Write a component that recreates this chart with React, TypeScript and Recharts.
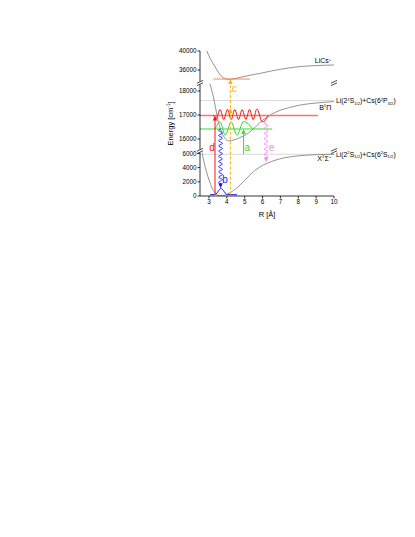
import React from "react";
import {
  ComposedChart,
  Line,
  XAxis,
  YAxis,
  ReferenceLine,
  ReferenceDot,
} from "recharts";

// Energy axis is broken in three pieces (0-6k, 16-18k, 36-40k cm-1).
// Everything is plotted on one "display" scale built from those pieces.
const toD = (e: number) =>
  e < 10000 ? e * 0.0071 : e < 30000 ? 57 + (e - 16000) * 0.024 : 126 + (e - 36000) * 0.00475;
const BREAKS = [45, 113];

const R_TICKS = [3, 4, 5, 6, 7, 8, 9, 10];
const E_TICKS = [0, 2000, 4000, 6000, 16000, 17000, 18000, 36000, 40000];

// potential curves (R in Å, E in cm-1)
const X_R = [2.6, 2.8, 3.0, 3.2, 3.4, 3.67, 4.0, 4.5, 5.0, 5.5, 6.0, 6.5, 7.0, 8.0, 9.0, 10];
const X_E = [6300, 4000, 2300, 1000, 300, 0, 250, 1000, 2200, 3450, 4300, 4850, 5250, 5650, 5820, 5880];

const B_R = [3.05, 3.15, 3.25, 3.36, 3.5, 3.7, 3.9, 4.1, 4.4, 4.8, 5.2, 5.6, 6.0, 6.5, 7.0, 7.5, 8.0, 9.0, 10];
const B_E = [18300, 18050, 17750, 17350, 16800, 16300, 16030, 15920, 15960, 16080, 16240, 16500, 16780, 17030, 17200, 17310, 17400, 17500, 17560];

const ION_R = [2.88, 3.1, 3.34, 3.55, 3.72, 3.9, 4.1, 4.4, 4.8, 5.3, 5.88, 6.5, 7.0, 7.75, 8.5, 9.2, 10];
const ION_E = [40000, 38200, 36700, 35400, 34600, 34200, 34050, 34150, 34500, 34900, 35300, 35800, 36150, 36570, 36830, 36970, 37050];

// asymptotes
const ASYM_P = 17600;
const ASYM_S = 5875;

// vibrational levels
const ION_LEVEL = { r: [3.25, 5.3], e: 34100 };
const RED_LEVEL = { r: [2.5, 9.1], e: 16980 };
const GREEN_LEVEL = { r: [2.5, 6.54], e: 16417 };

// wavefunctions
const RED_R = [3.26, 3.4, 3.626, 3.829, 4.037, 4.245, 4.448, 4.657, 4.859, 5.068, 5.27, 5.479, 5.681, 5.99, 6.33];
const RED_E = [16980, 16850, 17230, 16810, 17230, 16810, 17230, 16810, 17230, 16810, 17230, 16810, 17250, 16720, 16980];

const GREEN_R = [3.345, 3.626, 3.91, 4.245, 4.57, 4.94, 5.45];
const GREEN_E = [16417, 16710, 16160, 16710, 16160, 16730, 16417];

const BLUE_R = [3.06, 3.3, 3.45, 3.55, 3.68, 3.8, 3.92, 4.05, 4.57];
const BLUE_E = [180, 190, 400, 800, 1080, 800, 400, 190, 180];

// transitions
const ARROW_A = { r: 4.94, from: 5875, to: 16417 };
const ARROW_B = { r: 3.65, from: 16417, to: 1100 };
const ARROW_C1 = { r: 4.2, from: 200, to: 17290 };
const ARROW_C2 = { r: 4.2, from: 17290, to: 34100 };
const ARROW_D = { r: 3.34, from: 180, to: 16980 };
const ARROW_E = { r: 6.2, from: 16720, to: 4750 };

const GREY = "#777";
const RED = "#ff1010";
const GREEN = "#2ee02e";
const BLUE = "#1616ff";
const PINK = "#ff80ff";
const GOLD = "#ffb000";
const ORANGE = "#f4865a";

const pts = (rs: number[], es: number[]) => rs.map((r, i) => ({ r, d: toD(es[i]) }));
const level = (lv: { r: number[]; e: number }) => lv.r.map((r) => ({ r, d: toD(lv.e) }));

function head(tx: number, ty: number, ux: number, uy: number, color: string) {
  const L = 5;
  const W = 2.2;
  const bx = tx - ux * L;
  const by = ty - uy * L;
  return (
    <polygon
      points={`${tx},${ty} ${bx - uy * W},${by + ux * W} ${bx + uy * W},${by - ux * W}`}
      fill={color}
    />
  );
}

const arrow = (color: string, dash?: string, withHead = true) => (p: any) => {
  const { x1, y1, x2, y2 } = p;
  const len = Math.hypot(x2 - x1, y2 - y1) || 1;
  const ux = (x2 - x1) / len;
  const uy = (y2 - y1) / len;
  const cut = withHead ? 4 : 0;
  return (
    <g>
      <line
        x1={x1}
        y1={y1}
        x2={x2 - ux * cut}
        y2={y2 - uy * cut}
        stroke={color}
        strokeWidth={1}
        strokeDasharray={dash}
      />
      {withHead && head(x2, y2, ux, uy, color)}
    </g>
  );
};

const wavy = (color: string) => (p: any) => {
  const { x1, y1, x2, y2 } = p;
  const len = Math.hypot(x2 - x1, y2 - y1) || 1;
  const ux = (x2 - x1) / len;
  const uy = (y2 - y1) / len;
  const n = Math.floor((len - 4) / 0.5);
  let path = "";
  for (let i = 0; i <= n; i++) {
    const s = i * 0.5;
    const w = 1.9 * Math.sin((s / 5.2) * 2 * Math.PI);
    const px = x1 + ux * s - uy * w;
    const py = y1 + uy * s + ux * w;
    path += (i ? "L" : "M") + px.toFixed(2) + "," + py.toFixed(2);
  }
  return (
    <g>
      <path d={path} stroke={color} fill="none" strokeWidth={0.9} />
      {head(x2, y2, ux, uy, color)}
    </g>
  );
};

type Part = [string, number];

function Rich({ x, y, parts, size, anchor = "start", fill = "#000" }: any) {
  let prev = 0;
  return (
    <text x={x} y={y} fontSize={size} textAnchor={anchor} fill={fill}>
      {parts.map(([t, s]: Part, i: number) => {
        const off = s < 0 ? -size * 0.38 : s > 0 ? size * 0.22 : 0;
        const dy = off - prev;
        prev = off;
        return (
          <tspan key={i} dy={dy} fontSize={s ? size * 0.62 : size}>
            {t}
          </tspan>
        );
      })}
    </text>
  );
}

const tag = (parts: Part[], size: number, anchor: string, dx: number, dy: number, fill = "#000") => (p: any) => (
  <Rich x={p.cx + dx} y={p.cy + dy} parts={parts} size={size} anchor={anchor} fill={fill} />
);

const breakMark = (p: any) => (
  <g>
    <rect x={p.cx - 4} y={p.cy - 1.6} width={8} height={3.2} fill="#fff" />
    <line x1={p.cx - 3} y1={p.cy + 2.6} x2={p.cx + 3} y2={p.cy - 0.2} stroke="#000" strokeWidth={0.7} />
    <line x1={p.cx - 3} y1={p.cy + 0.2} x2={p.cx + 3} y2={p.cy - 2.6} stroke="#000" strokeWidth={0.7} />
  </g>
);

const yLabel = (props: any) => {
  const vb = props.viewBox;
  const cx = vb.x + 10;
  const cy = vb.y + vb.height / 2;
  return (
    <g transform={`rotate(-90, ${cx}, ${cy})`}>
      <Rich x={cx} y={cy + 3} parts={[["Energy [cm", 0], ["-1", -1], ["]", 0]]} size={7.5} anchor="middle" />
    </g>
  );
};

const xLabel = (props: any) => {
  const vb = props.viewBox;
  return (
    <text x={vb.x + vb.width / 2} y={vb.y + 21} fontSize={7.5} textAnchor="middle" fill="#000">
      R [Å]
    </text>
  );
};

const tickFmt = (v: number) => {
  const i = E_TICKS.findIndex((e) => Math.abs(toD(e) - v) < 0.01);
  return i >= 0 ? String(E_TICKS[i]) : "";
};

export default function App() {
  const yTicks = E_TICKS.map(toD);
  const axisStyle = { stroke: "#000", strokeWidth: 0.8 };
  const tickStyle = { fontSize: 6.3, fill: "#000" };
  return (
    <div style={{ position: "absolute", left: 0, top: 0, fontFamily: "'Liberation Sans', Arial, sans-serif" }}>
      <ComposedChart width={415} height={260} margin={{ top: 51, right: 81, bottom: 34, left: 160 }}>
        <XAxis
          dataKey="r"
          type="number"
          domain={[2.5, 10]}
          ticks={R_TICKS}
          interval={0}
          allowDataOverflow
          height={30}
          axisLine={axisStyle}
          tickLine={axisStyle}
          tickSize={2.5}
          tickMargin={1}
          tick={tickStyle}
          label={xLabel}
        />
        <XAxis
          xAxisId="top"
          orientation="top"
          dataKey="r"
          type="number"
          domain={[2.5, 10]}
          ticks={R_TICKS}
          interval={0}
          height={0}
          axisLine={axisStyle}
          tickLine={axisStyle}
          tickSize={2.5}
          tickFormatter={() => ""}
        />
        <YAxis
          type="number"
          domain={[0, 145]}
          ticks={yTicks}
          interval={0}
          allowDataOverflow
          width={40}
          axisLine={axisStyle}
          tickLine={axisStyle}
          tickSize={2.5}
          tickMargin={1}
          tick={tickStyle}
          tickFormatter={tickFmt}
          label={yLabel}
        />
        <YAxis
          yAxisId="right"
          orientation="right"
          type="number"
          domain={[0, 145]}
          ticks={yTicks}
          interval={0}
          width={0}
          axisLine={axisStyle}
          tickLine={axisStyle}
          tickSize={2.5}
          tickFormatter={() => ""}
        />

        <ReferenceLine y={toD(ASYM_P)} stroke="#cfcfcf" strokeWidth={0.8} />
        <ReferenceLine y={toD(ASYM_S)} stroke="#cfcfcf" strokeWidth={0.8} />

        <Line data={pts(X_R, X_E)} dataKey="d" type="monotone" stroke={GREY} strokeWidth={0.8} dot={false} isAnimationActive={false} />
        <Line data={pts(B_R, B_E)} dataKey="d" type="monotone" stroke={GREY} strokeWidth={0.8} dot={false} isAnimationActive={false} />
        <Line data={pts(ION_R, ION_E)} dataKey="d" type="monotone" stroke={GREY} strokeWidth={0.8} dot={false} isAnimationActive={false} />

        <Line data={level(ION_LEVEL)} dataKey="d" stroke={ORANGE} strokeWidth={1} dot={false} isAnimationActive={false} />
        <Line data={level(RED_LEVEL)} dataKey="d" stroke="#ff7070" strokeWidth={1.4} dot={false} isAnimationActive={false} />
        <Line data={level(GREEN_LEVEL)} dataKey="d" stroke={GREEN} strokeWidth={1} dot={false} isAnimationActive={false} />

        <Line data={pts(RED_R, RED_E)} dataKey="d" type="monotone" stroke={RED} strokeWidth={1} dot={false} isAnimationActive={false} />
        <Line data={pts(GREEN_R, GREEN_E)} dataKey="d" type="monotone" stroke={GREEN} strokeWidth={1} dot={false} isAnimationActive={false} />
        <Line data={pts(BLUE_R, BLUE_E)} dataKey="d" type="monotone" stroke={BLUE} strokeWidth={1} dot={false} isAnimationActive={false} />

        <ReferenceLine
          segment={[{ x: ARROW_C1.r, y: toD(ARROW_C1.from) }, { x: ARROW_C1.r, y: toD(ARROW_C1.to) }]}
          shape={arrow(GOLD, "3 2")}
          ifOverflow="visible"
        />
        <ReferenceLine
          segment={[{ x: ARROW_C2.r, y: toD(ARROW_C2.from) }, { x: ARROW_C2.r, y: toD(ARROW_C2.to) }]}
          shape={arrow(GOLD, "3 2")}
          ifOverflow="visible"
        />
        <ReferenceLine
          segment={[{ x: ARROW_D.r, y: toD(ARROW_D.from) }, { x: ARROW_D.r, y: toD(ARROW_D.to) }]}
          shape={arrow(RED)}
          ifOverflow="visible"
        />
        <ReferenceLine
          segment={[{ x: ARROW_A.r, y: toD(ARROW_A.from) }, { x: ARROW_A.r, y: toD(ARROW_A.to) }]}
          shape={arrow(GREEN)}
          ifOverflow="visible"
        />
        <ReferenceLine
          segment={[{ x: ARROW_B.r, y: toD(ARROW_B.from) }, { x: ARROW_B.r, y: toD(ARROW_B.to) }]}
          shape={wavy(BLUE)}
          ifOverflow="visible"
        />
        <ReferenceLine
          segment={[{ x: ARROW_E.r, y: toD(ARROW_E.from) }, { x: ARROW_E.r, y: toD(ARROW_E.to) }]}
          shape={wavy(PINK)}
          ifOverflow="visible"
        />

        {/* transition letters */}
        <ReferenceDot x={3.18} y={toD(15650)} ifOverflow="visible" shape={tag([["d", 0]], 10, "middle", 0, 3.5, RED)} />
        <ReferenceDot x={5.15} y={toD(15650)} ifOverflow="visible" shape={tag([["a", 0]], 10, "middle", 0, 3.5, GREEN)} />
        <ReferenceDot x={6.5} y={toD(15650)} ifOverflow="visible" shape={tag([["e", 0]], 10, "middle", 0, 3.5, PINK)} />
        <ReferenceDot x={3.9} y={toD(2350)} ifOverflow="visible" shape={tag([["b", 0]], 10, "middle", 0, 3.5, BLUE)} />
        <ReferenceDot x={4.41} y={toD(18120)} ifOverflow="visible" shape={tag([["c", 0]], 10, "middle", 0, 3.5, GOLD)} />

        {/* state names */}
        <ReferenceDot x={9.85} y={toD(37900)} ifOverflow="visible" shape={tag([["LiCs", 0], ["+", -1]], 7, "end", 0, 2.5)} />
        <ReferenceDot x={9.85} y={toD(17330)} ifOverflow="visible" shape={tag([["B", 0], ["1", -1], ["Π", 0]], 7, "end", 0, 2.5)} />
        <ReferenceDot x={9.85} y={toD(5300)} ifOverflow="visible" shape={tag([["X", 0], ["1", -1], ["Σ", 0], ["+", -1]], 7, "end", 0, 2.5)} />
        <ReferenceDot
          x={10}
          y={toD(ASYM_P)}
          ifOverflow="visible"
          shape={tag([["Li(2", 0], ["2", -1], ["S", 0], ["1/2", 1], [")+Cs(6", 0], ["2", -1], ["P", 0], ["3/2", 1], [")", 0]], 6.8, "start", 2, 2.5)}
        />
        <ReferenceDot
          x={10}
          y={toD(ASYM_S)}
          ifOverflow="visible"
          shape={tag([["Li(2", 0], ["2", -1], ["S", 0], ["1/2", 1], [")+Cs(6", 0], ["2", -1], ["S", 0], ["1/2", 1], [")", 0]], 6.8, "start", 2, 2.5)}
        />

        {/* axis breaks */}
        {BREAKS.map((b) => (
          <ReferenceDot key={"l" + b} x={2.5} y={b} ifOverflow="visible" shape={breakMark} />
        ))}
        {BREAKS.map((b) => (
          <ReferenceDot key={"r" + b} x={10} y={b} ifOverflow="visible" shape={breakMark} />
        ))}
      </ComposedChart>
    </div>
  );
}
